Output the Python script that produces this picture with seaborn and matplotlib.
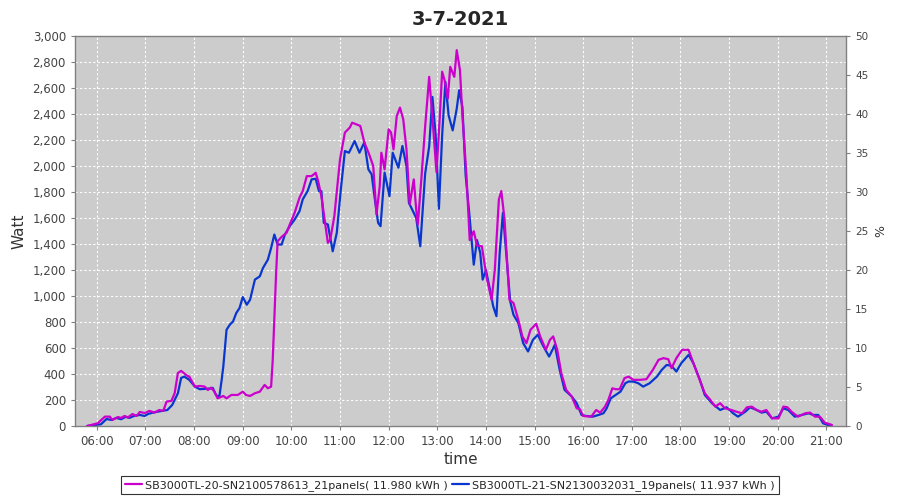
import pandas as pd
import seaborn as sns
import matplotlib
matplotlib.use("Agg")
import matplotlib.pyplot as plt

# Power readings (W), one list of times per inverter
label_a = "SB3000TL-20-SN2100578613_21panels( 11.980 kWh )"
times_a = ["05:48", "06:01", "06:10", "06:16", "06:19", "06:26", "06:30", "06:34", "06:38", "06:44",
           "06:49", "06:53", "06:59", "07:05", "07:11", "07:17", "07:22", "07:26", "07:32", "07:36",
           "07:40", "07:44", "07:50", "07:54", "08:01", "08:07", "08:13", "08:17", "08:21", "08:25",
           "08:29", "08:36", "08:40", "08:46", "08:54", "09:00", "09:04", "09:09", "09:15", "09:21",
           "09:27", "09:31", "09:35", "09:37", "09:41", "09:43", "09:48", "09:54", "09:58", "10:04",
           "10:10", "10:14", "10:19", "10:25", "10:30", "10:33", "10:37", "10:41", "10:45", "10:48",
           "10:53", "11:00", "11:06", "11:12", "11:15", "11:20", "11:25", "11:30", "11:36", "11:41",
           "11:45", "11:49", "11:51", "11:55", "12:00", "12:03", "12:06", "12:10", "12:14", "12:18",
           "12:22", "12:26", "12:31", "12:34", "12:36", "12:40", "12:45", "12:50", "12:55", "12:59",
           "13:03", "13:06", "13:09", "13:13", "13:16", "13:21", "13:24", "13:28", "13:31", "13:36",
           "13:40", "13:45", "13:49", "13:55", "14:01", "14:07", "14:11", "14:16", "14:19", "14:23",
           "14:29", "14:34", "14:40", "14:45", "14:50", "14:55", "15:02", "15:07", "15:14", "15:19",
           "15:23", "15:28", "15:33", "15:39", "15:46", "15:52", "15:56", "16:00", "16:10", "16:16",
           "16:21", "16:27", "16:31", "16:36", "16:40", "16:45", "16:51", "16:56", "17:02", "17:10",
           "17:18", "17:26", "17:33", "17:39", "17:45", "17:49", "17:55", "18:02", "18:10", "18:16",
           "18:24", "18:30", "18:37", "18:43", "18:49", "18:55", "19:03", "19:09", "19:16", "19:22",
           "19:28", "19:34", "19:40", "19:46", "19:53", "20:01", "20:07", "20:12", "20:17", "20:25",
           "20:34", "20:40", "20:46", "20:52", "20:58", "21:07"]
watt_a = [0, 21, 72, 72, 46, 69, 62, 77, 65, 92,
          77, 108, 100, 116, 103, 123, 116, 188, 193, 252,
          408, 424, 393, 380, 303, 308, 303, 277, 295, 264,
          213, 231, 213, 239, 239, 264, 239, 231, 252, 264,
          316, 290, 303, 509, 1151, 1421, 1455, 1486, 1550, 1640,
          1756, 1807, 1922, 1922, 1948, 1884, 1768, 1588, 1409, 1434,
          1614, 2051, 2257, 2295, 2333, 2321, 2308, 2182, 2089, 1999,
          1627, 1845, 2102, 1974, 2282, 2257, 2128, 2385, 2449, 2359,
          2128, 1704, 1897, 1665, 1550, 1871, 2300, 2686, 2288, 1953,
          2365, 2725, 2660, 2519, 2763, 2686, 2891, 2737, 2390, 1928,
          1430, 1498, 1388, 1383, 1140, 971, 1203, 1743, 1807, 1588,
          971, 946, 817, 689, 637, 740, 786, 689, 586, 663,
          689, 586, 406, 278, 226, 136, 129, 77, 72, 123,
          103, 149, 200, 290, 283, 283, 368, 380, 355, 355,
          360, 432, 509, 522, 514, 445, 522, 586, 586, 483,
          350, 252, 200, 149, 175, 136, 123, 110, 98, 144,
          149, 123, 110, 123, 59, 59, 149, 144, 110, 72,
          98, 103, 72, 72, 26, 8]

label_b = "SB3000TL-21-SN2130032031_19panels( 11.937 kWh )"
times_b = ["05:48", "06:05", "06:12", "06:18", "06:24", "06:30", "06:36", "06:40", "06:47", "06:53",
           "06:59", "07:03", "07:09", "07:15", "07:22", "07:27", "07:33", "07:40", "07:44", "07:48",
           "07:54", "08:01", "08:07", "08:19", "08:23", "08:27", "08:31", "08:34", "08:36", "08:40",
           "08:44", "08:48", "08:52", "08:56", "09:00", "09:05", "09:09", "09:15", "09:21", "09:25",
           "09:31", "09:35", "09:39", "09:43", "09:48", "09:52", "09:58", "10:04", "10:10", "10:14",
           "10:20", "10:25", "10:30", "10:34", "10:37", "10:40", "10:45", "10:51", "10:56", "11:01",
           "11:06", "11:11", "11:18", "11:24", "11:30", "11:35", "11:39", "11:43", "11:47", "11:50",
           "11:55", "12:01", "12:05", "12:12", "12:17", "12:22", "12:25", "12:30", "12:34", "12:39",
           "12:45", "12:50", "12:54", "12:58", "13:02", "13:06", "13:10", "13:14", "13:19", "13:24",
           "13:27", "13:31", "13:35", "13:40", "13:45", "13:49", "13:53", "13:56", "14:00", "14:05",
           "14:09", "14:13", "14:17", "14:21", "14:25", "14:30", "14:34", "14:40", "14:46", "14:52",
           "14:58", "15:04", "15:11", "15:18", "15:25", "15:31", "15:37", "15:46", "15:52", "15:58",
           "16:04", "16:12", "16:19", "16:25", "16:29", "16:34", "16:40", "16:46", "16:52", "16:56",
           "17:02", "17:08", "17:14", "17:22", "17:31", "17:37", "17:43", "17:49", "17:55", "18:01",
           "18:10", "18:16", "18:24", "18:30", "18:39", "18:49", "18:57", "19:05", "19:11", "19:20",
           "19:26", "19:34", "19:40", "19:46", "19:53", "20:01", "20:07", "20:13", "20:21", "20:30",
           "20:38", "20:44", "20:50", "20:56", "21:05"]
watt_b = [0, 13, 54, 46, 62, 52, 72, 62, 80, 85,
          77, 92, 103, 110, 118, 123, 162, 252, 370, 380,
          355, 303, 283, 288, 293, 239, 221, 355, 457, 740,
          779, 804, 869, 907, 992, 933, 971, 1126, 1151, 1216,
          1280, 1370, 1473, 1396, 1396, 1473, 1537, 1588, 1652, 1743,
          1807, 1897, 1902, 1807, 1807, 1563, 1550, 1344, 1486, 1820,
          2115, 2102, 2192, 2102, 2182, 1974, 1936, 1743, 1563, 1537,
          1949, 1768, 2102, 1987, 2154, 1999, 1717, 1652, 1600, 1383,
          1940, 2150, 2531, 2236, 1671, 2236, 2647, 2390, 2274, 2441,
          2583, 2454, 1928, 1600, 1241, 1430, 1332, 1126, 1200, 1049,
          920, 845, 1332, 1640, 1332, 958, 856, 792, 637, 573,
          663, 702, 611, 534, 624, 432, 278, 226, 175, 85,
          77, 72, 85, 98, 136, 213, 239, 264, 329, 342,
          342, 329, 303, 329, 380, 432, 470, 462, 419, 483,
          547, 483, 355, 239, 175, 123, 144, 98, 72, 110,
          144, 123, 103, 110, 59, 72, 136, 123, 72, 85,
          98, 85, 85, 21, 0]

hour_ticks = list(range(6, 22))
watt_ticks = list(range(0, 3001, 200))
pct_ticks = list(range(0, 51, 5))


def to_hours(t):
    h, m = t.split(":")
    return int(h) + int(m) / 60


df = pd.concat([
    pd.DataFrame({"time": [to_hours(t) for t in times_a], "watt": watt_a, "series": label_a}),
    pd.DataFrame({"time": [to_hours(t) for t in times_b], "watt": watt_b, "series": label_b}),
])

sns.set_style("darkgrid", {"axes.facecolor": "#cccccc", "grid.color": "white",
                           "grid.linestyle": (0, (2, 2)), "axes.edgecolor": "#808080"})
plt.rcParams["font.family"] = ["DejaVu Sans"]

fig = plt.figure(figsize=(9, 5), dpi=100)
ax = fig.add_axes([0.0833, 0.148, 0.857, 0.78])

sns.lineplot(data=df, x="time", y="watt", hue="series", estimator=None, sort=True,
             palette={label_a: "#cc00cc", label_b: "#0a36d0"}, linewidth=1.6, ax=ax)
# magenta drawn over blue, as in the original
ax.lines[0].set_zorder(3)

ax.set_xlim(5.55, 21.41)
ax.set_ylim(0, 3000)
ax.set_xticks(hour_ticks)
ax.set_xticklabels([f"{h:02d}:00" for h in hour_ticks])
ax.set_yticks(watt_ticks)
ax.set_yticklabels([f"{v:,}" for v in watt_ticks])
ax.grid(True, color="white", linestyle=(0, (2, 2)), linewidth=0.8)
ax.tick_params(axis="both", labelsize=8.5, colors="#808080", labelcolor="#444444",
               length=3, direction="out", bottom=True, left=True)
ax.set_xlabel("time", fontsize=11, color="#333333", labelpad=3)
ax.set_ylabel("Watt", fontsize=11, color="#333333", labelpad=4)
for s in ax.spines.values():
    s.set_color("#808080")
    s.set_linewidth(1.0)

ax2 = ax.twinx()
ax2.set_ylim(0, 50)
ax2.set_yticks(pct_ticks)
ax2.grid(False)
ax2.tick_params(axis="y", labelsize=7.5, colors="#808080", labelcolor="#444444", length=3, right=True)
ax2.set_ylabel("%", fontsize=9, color="#333333", labelpad=4)
for s in ax2.spines.values():
    s.set_visible(False)

ax.set_title("3-7-2021", fontsize=14, fontweight="bold", pad=8)

handles, labels = ax.get_legend_handles_labels()
ax.get_legend().remove()
leg = fig.legend(handles, labels, loc="lower center", bbox_to_anchor=(0.5, 0.0), ncol=2,
                 fontsize=8, frameon=True, fancybox=False, edgecolor="black",
                 handlelength=1.5, handletextpad=0.3, columnspacing=0.4, borderpad=0.35)
leg.get_frame().set_facecolor("white")
leg.get_frame().set_linewidth(0.8)

fig.savefig("out.png", dpi=100)
